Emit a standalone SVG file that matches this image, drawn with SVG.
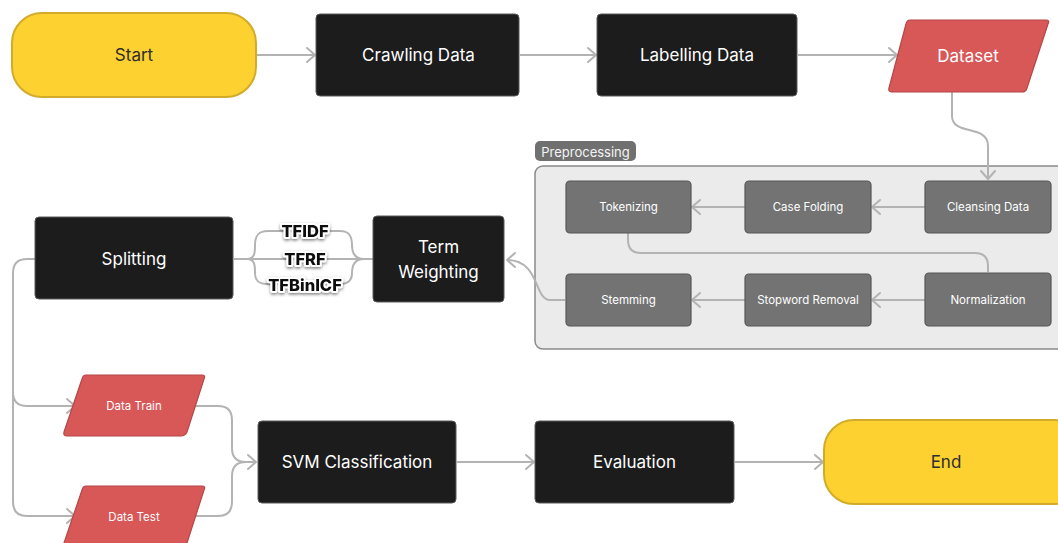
<svg xmlns="http://www.w3.org/2000/svg" width="1058" height="543" viewBox="0 0 1058 543">
<defs>
<marker id="arr" markerUnits="userSpaceOnUse" markerWidth="20" markerHeight="20" viewBox="-10 -10 20 20" refX="0" refY="0" orient="auto">
<path d="M -8 -7 L 0 0 L -8 7" fill="none" stroke="#b3b3b3" stroke-width="2" stroke-linecap="round" stroke-linejoin="round"/>
</marker>
<filter id="sh" x="-20%" y="-40%" width="140%" height="180%">
<feDropShadow dx="0" dy="1.5" stdDeviation="1.8" flood-color="#000" flood-opacity="0.5"/>
</filter>
</defs>
<style>
text{font-family:Inter,"Liberation Sans",sans-serif;text-anchor:middle;dominant-baseline:central}
.term{fill:#fdd130;stroke:#d2ab2c;stroke-width:2}
.blk{fill:#1c1c1c;stroke:#5a5a5a;stroke-width:1}
.red{fill:#d85757;stroke:#b54747;stroke-width:1.2}
.gry{fill:#737373;stroke:#575757;stroke-width:1.2}
.wt{fill:#ffffff;font-size:17px}
.dt{fill:#2d2d2d;font-size:17px}
.st{fill:#ffffff;font-size:11.5px}
.tf{fill:#111;font-size:16.5px;font-weight:800;stroke:#fff;stroke-width:4;paint-order:stroke;stroke-linejoin:round}
.c{fill:none;stroke:#b3b3b3;stroke-width:2}
</style>
<rect x="0" y="0" width="1058" height="543" fill="#ffffff"/>

<g id="preprocessing">
<rect x="535" y="166" width="540" height="183" rx="8" fill="#ebebeb" stroke="#8a8a8a" stroke-width="1.5"/>
<rect x="535" y="141" width="101" height="20" rx="5" fill="#707070"/>
<text x="585.5" y="151.5" style="fill:#f4f4f4;font-size:13px">Preprocessing</text>
</g>

<g id="connectors">
<path class="c" d="M 257 55 H 315" marker-end="url(#arr)"/>
<path class="c" d="M 520 55 H 596" marker-end="url(#arr)"/>
<path class="c" d="M 798 55 H 897" marker-end="url(#arr)"/>
<path class="c" d="M 952 92 V 116 C 952 136, 988 124, 988 146 V 179" marker-end="url(#arr)"/>
<path class="c" d="M 925 207 H 872" marker-end="url(#arr)"/>
<path class="c" d="M 745 207 H 692" marker-end="url(#arr)"/>
<path class="c" d="M 628 233 V 240 Q 628 253 641 253 H 975 Q 988 253 988 266 V 272"/>
<path class="c" d="M 925 300 H 872" marker-end="url(#arr)"/>
<path class="c" d="M 745 300 H 692" marker-end="url(#arr)"/>
<path class="c" d="M 565 300 H 550 C 534 300, 540 260, 507 260" marker-end="url(#arr)"/>
<path class="c" d="M 234 259 H 247 C 255 259, 255 252, 255 245 C 255 236, 258 231, 268 231 H 340 C 349 231, 352 236, 352 245 C 352 252, 354 259, 364 259 H 373"/>
<path class="c" d="M 247 259 C 255 259, 255 266, 255 273 C 255 280, 258 284, 268 284 H 340 C 349 284, 352 280, 352 273 C 352 266, 354 259, 364 259"/>
<path class="c" d="M 247 259 H 364"/>
<path class="c" d="M 35 259 H 27 Q 13 259 13 273 V 392 Q 13 406 27 406 H 75" marker-end="url(#arr)"/>
<path class="c" d="M 13 392 V 502 Q 13 516 27 516 H 75" marker-end="url(#arr)"/>
<path class="c" d="M 195 406 H 218 Q 232 406 232 420 V 448 Q 232 462 246 462 H 256" marker-end="url(#arr)"/>
<path class="c" d="M 195 516 H 218 Q 232 516 232 502 V 476 Q 232 462 246 462"/>
<path class="c" d="M 457 462 H 534" marker-end="url(#arr)"/>
<path class="c" d="M 735 462 H 823" marker-end="url(#arr)"/>
<text class="tf" x="305" y="231" filter="url(#sh)">TFIDF</text>
<text class="tf" x="305" y="259" filter="url(#sh)">TFRF</text>
<text class="tf" x="305" y="285" filter="url(#sh)">TFBinICF</text>
</g>

<g id="start">
<rect class="term" x="12" y="13" width="244" height="84" rx="30"/>
<text class="dt" x="134" y="55">Start</text>
</g>
<g id="crawling">
<rect class="blk" x="316" y="14" width="203" height="82" rx="4"/>
<text class="wt" x="418.5" y="55">Crawling Data</text>
</g>
<g id="labelling">
<rect class="blk" x="597" y="14" width="200" height="82" rx="4"/>
<text class="wt" x="697" y="55">Labelling Data</text>
</g>
<g id="dataset">
<path class="red" d="M 910 20 H 1046 Q 1050 20 1048 24 L 1027 88 Q 1026 92 1022 92 H 892 Q 888 92 889 88 L 906 24 Q 907 20 910 20 Z"/>
<text class="wt" x="968" y="56">Dataset</text>
</g>
<g id="cleansing">
<rect class="gry" x="925" y="181" width="126" height="52" rx="4"/>
<text class="st" x="988" y="207">Cleansing Data</text>
</g>
<g id="casefolding">
<rect class="gry" x="745" y="181" width="126" height="52" rx="4"/>
<text class="st" x="808" y="207">Case Folding</text>
</g>
<g id="tokenizing">
<rect class="gry" x="566" y="181" width="125" height="52" rx="4"/>
<text class="st" x="628.5" y="207">Tokenizing</text>
</g>
<g id="normalization">
<rect class="gry" x="925" y="273" width="126" height="53" rx="4"/>
<text class="st" x="988" y="299.5">Normalization</text>
</g>
<g id="stopword">
<rect class="gry" x="745" y="274" width="126" height="52" rx="4"/>
<text class="st" x="808" y="300">Stopword Removal</text>
</g>
<g id="stemming">
<rect class="gry" x="566" y="274" width="125" height="52" rx="4"/>
<text class="st" x="628.5" y="300">Stemming</text>
</g>
<g id="termweighting">
<rect class="blk" x="373" y="216" width="131" height="86" rx="4"/>
<text class="wt" x="438.5" y="247">Term</text>
<text class="wt" x="438.5" y="272">Weighting</text>
</g>
<g id="splitting">
<rect class="blk" x="35" y="217" width="198" height="82" rx="4"/>
<text class="wt" x="134" y="259">Splitting</text>
</g>
<g id="datatrain">
<path class="red" d="M 86 375 H 202 Q 206 375 204 379 L 187 432 Q 185 436 181 436 H 67 Q 63 436 64 432 L 82 379 Q 83 375 86 375 Z"/>
<text class="st" x="134" y="406">Data Train</text>
</g>
<g id="datatest">
<path class="red" d="M 86 486 H 202 Q 206 486 204 490 L 187 543 Q 185 547 181 547 H 67 Q 63 547 64 543 L 82 490 Q 83 486 86 486 Z"/>
<text class="st" x="134" y="517">Data Test</text>
</g>
<g id="svm">
<rect class="blk" x="258" y="421" width="198" height="82" rx="4"/>
<text class="wt" x="357" y="462">SVM Classification</text>
</g>
<g id="evaluation">
<rect class="blk" x="535" y="421" width="199" height="82" rx="4"/>
<text class="wt" x="634.5" y="462">Evaluation</text>
</g>
<g id="end">
<rect class="term" x="824" y="420" width="260" height="84" rx="30"/>
<text class="dt" x="946" y="462">End</text>
</g>
</svg>
